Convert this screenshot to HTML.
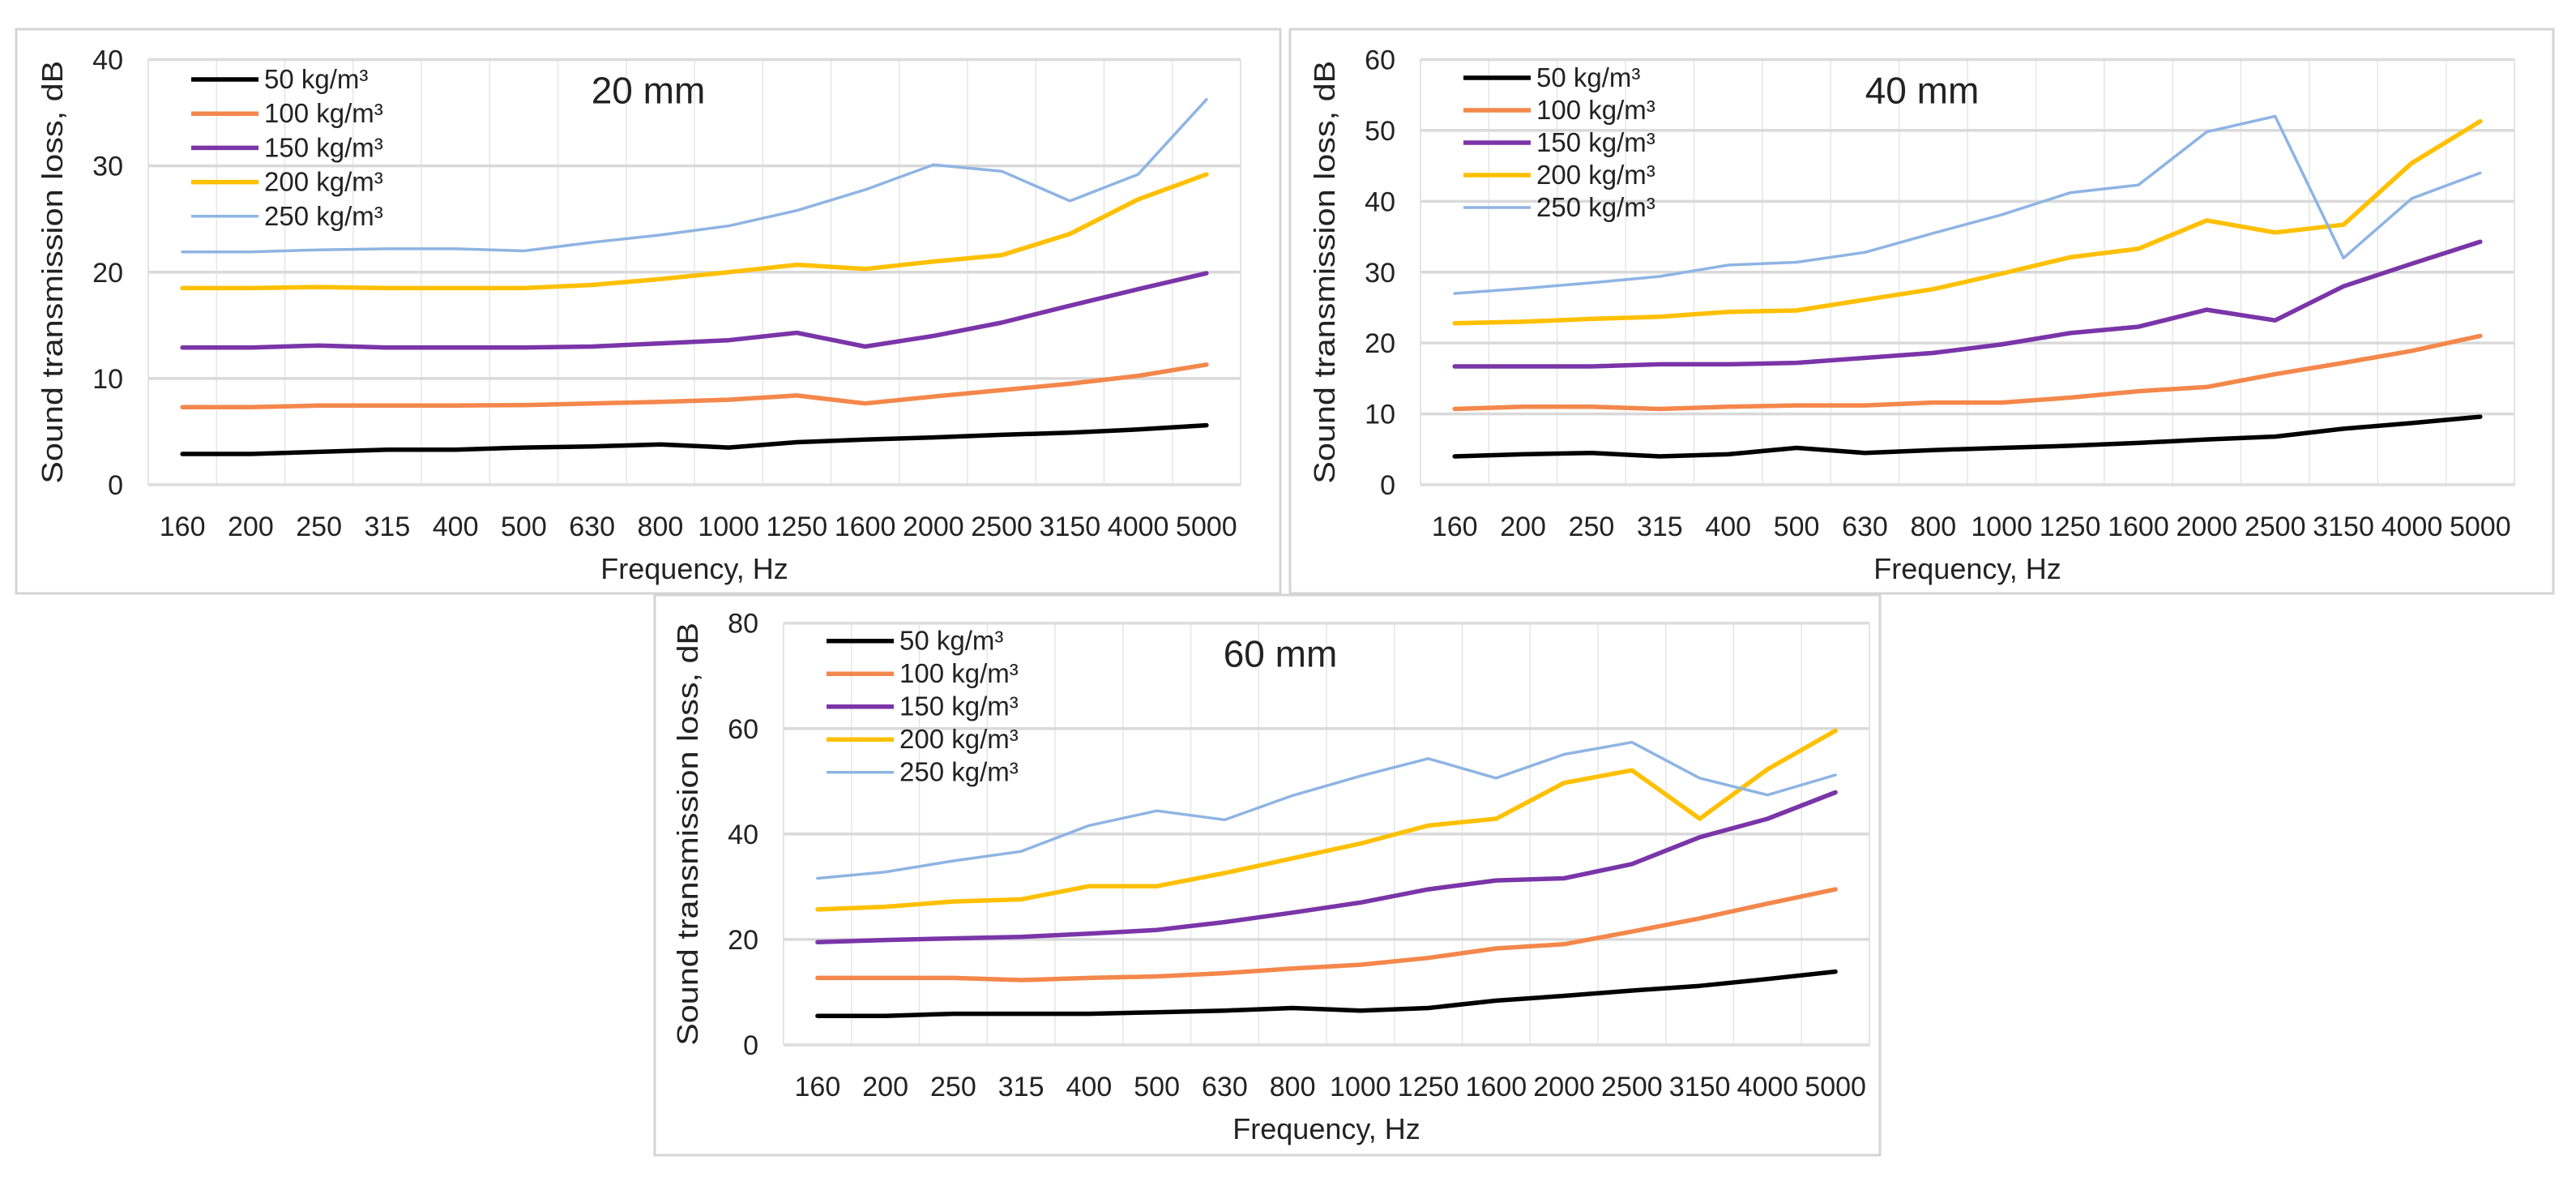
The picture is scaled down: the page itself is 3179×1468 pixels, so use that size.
<!DOCTYPE html>
<html><head><meta charset="utf-8"><style>
html,body{margin:0;padding:0;background:#fff;}
svg{display:block;}
text{font-family:"Liberation Sans Narrow","Liberation Sans",sans-serif;fill:#222;}
</style></head><body>
<svg id="svg" width="3179" height="1468" viewBox="0 0 3179 1468" xmlns="http://www.w3.org/2000/svg"></svg>
<script>
const categories = ["160","200","250","315","400","500","630","800","1000","1250","1600","2000","2500","3150","4000","5000"];
const seriesNames = ["50 kg/m³","100 kg/m³","150 kg/m³","200 kg/m³","250 kg/m³"];
const seriesColors = ["#000000","#F4874B","#7A35A8","#FFC000","#8EB4E3"];
const seriesWidths = [5.5,5.5,5.5,5.5,3.5];

const c20_s50  = [2.9,2.9,3.1,3.3,3.3,3.5,3.6,3.8,3.5,4.0,4.25,4.45,4.7,4.9,5.2,5.6];
const c20_s100 = [7.3,7.3,7.45,7.45,7.45,7.5,7.65,7.8,8.0,8.4,7.65,8.3,8.9,9.5,10.25,11.3];
const c20_s150 = [12.9,12.9,13.1,12.9,12.9,12.9,13.0,13.3,13.6,14.3,13.0,14.0,15.25,16.85,18.4,19.9];
const c20_s200 = [18.5,18.5,18.6,18.5,18.5,18.5,18.8,19.35,20.0,20.7,20.3,21.0,21.6,23.6,26.85,29.2];
const c20_s250 = [21.9,21.9,22.1,22.2,22.2,22.0,22.8,23.5,24.35,25.8,27.75,30.1,29.5,26.7,29.2,36.25];
const c20_ticks = [0,10,20,30,40];

const c40_s50  = [4.0,4.3,4.5,4.0,4.3,5.2,4.5,4.9,5.2,5.5,5.9,6.4,6.8,7.9,8.7,9.6];
const c40_s100 = [10.7,11.0,11.0,10.7,11.0,11.2,11.2,11.6,11.6,12.3,13.2,13.8,15.6,17.2,18.9,21.0];
const c40_s150 = [16.7,16.7,16.7,17.0,17.0,17.2,17.9,18.6,19.8,21.4,22.3,24.7,23.2,28.0,31.2,34.3];
const c40_s200 = [22.8,23.0,23.4,23.7,24.4,24.6,26.1,27.6,29.8,32.1,33.3,37.3,35.6,36.7,45.4,51.3];
const c40_s250 = [27.0,27.7,28.5,29.4,31.0,31.4,32.8,35.5,38.1,41.2,42.3,49.8,52.0,32.0,40.4,44.0];
const c40_ticks = [0,10,20,30,40,50,60];

const c60_s50  = [5.5,5.5,5.9,5.9,5.9,6.2,6.5,7.0,6.5,7.0,8.4,9.3,10.3,11.2,12.5,13.9];
const c60_s100 = [12.7,12.7,12.7,12.3,12.7,13.0,13.6,14.5,15.2,16.5,18.3,19.1,21.5,24.0,26.8,29.5];
const c60_s150 = [19.5,19.9,20.2,20.5,21.1,21.8,23.3,25.1,27.0,29.5,31.2,31.6,34.3,39.4,42.9,47.9];
const c60_s200 = [25.7,26.2,27.2,27.6,30.1,30.1,32.6,35.4,38.2,41.6,42.9,49.7,52.1,42.9,52.3,59.6];
const c60_s250 = [31.6,32.8,34.9,36.7,41.6,44.4,42.7,47.3,51.0,54.3,50.6,55.1,57.4,50.6,47.4,51.2];
const c60_ticks = [0,20,40,60,80];

const NS = "http://www.w3.org/2000/svg";
const svg = document.getElementById("svg");
function mk(tag, attrs, parent){
  const e = document.createElementNS(NS, tag);
  for (const k in attrs) e.setAttribute(k, attrs[k]);
  (parent||svg).appendChild(e);
  return e;
}

function drawChart(id, title, box, plot, ticks, series){
  const g = mk("g", {});
  
  
  const frame = mk("rect", {x:box.x, y:box.y, width:box.w, height:box.h, fill:"#fff", stroke:"#d4d4d4", "stroke-width":3}, g);
  
  
  const L = plot.l, R = plot.r, T = plot.t, B = plot.b;
  const ymax = ticks[ticks.length-1];
  const n = categories.length;
  const band = (R-L)/n;
  const xs = i => L + band*(i+0.5);
  const ys = v => B - (v/ymax)*(B-T);
  for (let i=0;i<=n;i++){
    const vl = mk("line",{x1:L+band*i,x2:L+band*i,y1:T,y2:B,stroke:"#e6e6e6","stroke-width":1.5},g);
    
    
  }
  ticks.forEach(t=>{
    const hl = mk("line",{x1:L,x2:R,y1:ys(t),y2:ys(t),stroke:"#d9d9d9","stroke-width":3.5},g);
    
    
    const tl = mk("text",{x:L-31,y:ys(t)+12,"text-anchor":"end","font-size":34},g);
    tl.textContent = t;
    
    
  });
  const pf = mk("rect",{x:L,y:T,width:R-L,height:B-T,fill:"none",stroke:"#e0e0e0","stroke-width":1.5},g);
  
  
  categories.forEach((c,i)=>{
    const xl = mk("text",{x:xs(i),y:B+63,"text-anchor":"middle","font-size":34},g);
    xl.textContent = c;
    
    
  });
  const xt = mk("text",{x:(L+R)/2,y:B+116,"text-anchor":"middle","font-size":36},g);
  xt.textContent = "Frequency, Hz";
  
  
  const cy = (T+B)/2;
  const yt = mk("text",{x:L-106,y:cy,"text-anchor":"middle","font-size":36,transform:`rotate(-90 ${L-106} ${cy})`,style:'font-family:"Liberation Sans",sans-serif',textLength:522,lengthAdjust:"spacingAndGlyphs"},g);
  yt.textContent = "Sound transmission loss, dB";
  
  
  series.forEach((vals,si)=>{
    const pts = vals.map((v,i)=>xs(i).toFixed(1)+","+ys(v).toFixed(1)).join(" ");
    const pl = mk("polyline",{points:pts,fill:"none",stroke:seriesColors[si],"stroke-width":seriesWidths[si],"stroke-linejoin":"round","stroke-linecap":"round"},g);
    
    
  });
  seriesNames.forEach((nm,si)=>{
    const ry = T + plot.legOff + si*plot.legStep;
    const ll = mk("line",{x1:L+53,x2:L+136,y1:ry,y2:ry,stroke:seriesColors[si],"stroke-width":seriesWidths[si]},g);
    
    
    const lt = mk("text",{x:L+143,y:ry+11,"font-size":33},g);
    lt.textContent = nm;
    
    
  });
  const tt = mk("text",{x:L+plot.titleDx,y:T+54,"text-anchor":"middle","font-size":46},g);
  tt.textContent = title;
  
  
}

drawChart("20mm","20 mm",{x:20,y:36,w:1560,h:696},{l:183,r:1531,t:73.5,b:598,legOff:24.5,legStep:42.2,titleDx:617},c20_ticks,[c20_s50,c20_s100,c20_s150,c20_s200,c20_s250]);
drawChart("40mm","40 mm",{x:1592,y:36,w:1559,h:696},{l:1753,r:3103,t:73.5,b:598,legOff:22.5,legStep:40,titleDx:619},c40_ticks,[c40_s50,c40_s100,c40_s150,c40_s200,c40_s250]);
drawChart("60mm","60 mm",{x:808,y:734,w:1512,h:691},{l:967,r:2307,t:768.7,b:1289,legOff:22,legStep:40.5,titleDx:613},c60_ticks,[c60_s50,c60_s100,c60_s150,c60_s200,c60_s250]);
</script>
</body></html>
